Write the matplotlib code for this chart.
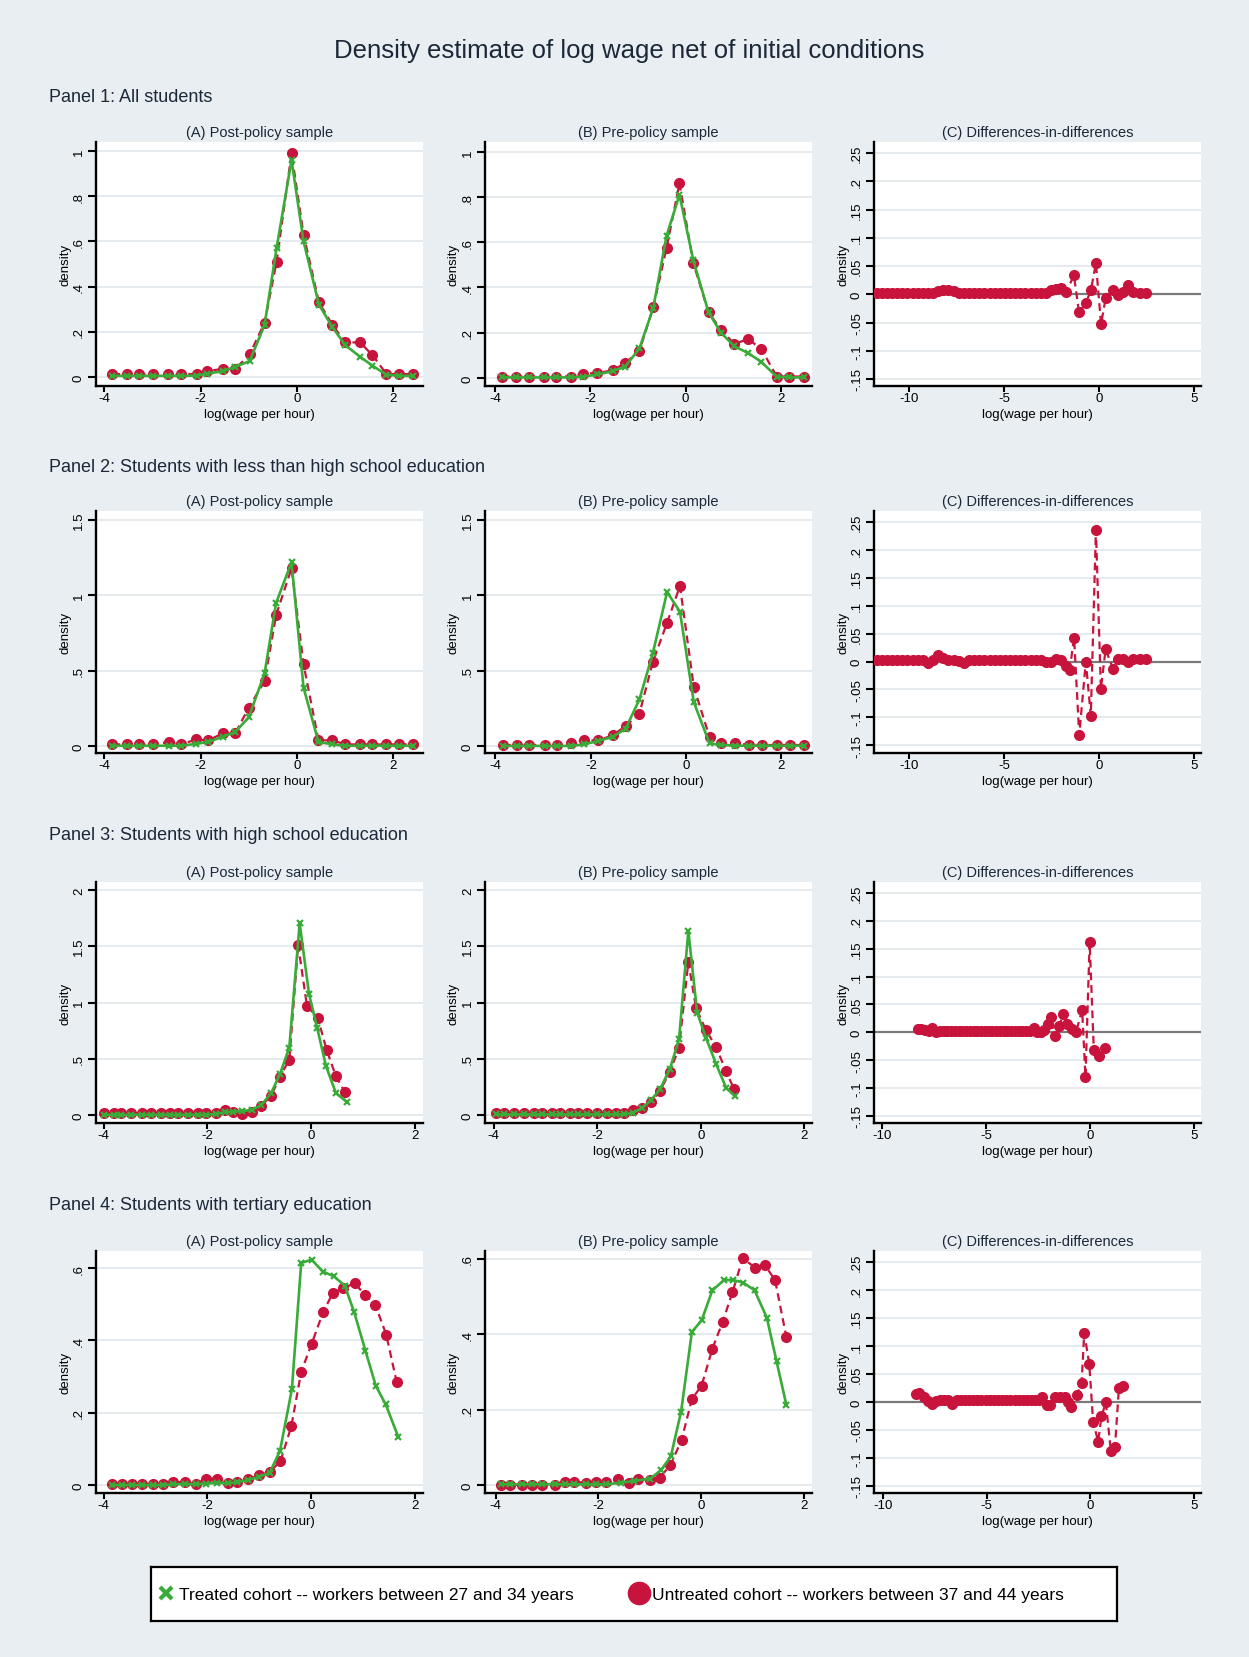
import matplotlib
matplotlib.use('Agg')
import matplotlib.pyplot as plt
from matplotlib.lines import Line2D

plt.rcParams['font.family'] = ['Liberation Sans', 'DejaVu Sans']
plt.rcParams['axes.unicode_minus'] = False

# ---------------- text ----------------
TITLE = 'Density estimate of log wage net of initial conditions'
PANEL_TITLES = ['Panel 1: All students',
                'Panel 2: Students with less than high school education',
                'Panel 3: Students with high school education',
                'Panel 4: Students with tertiary education']
SUB_TITLES = ['(A) Post-policy sample', '(B) Pre-policy sample', '(C) Differences-in-differences']
XLABEL = 'log(wage per hour)'
YLABEL = 'density'
LEGEND_LABELS = ['Treated cohort -- workers between 27 and 34 years',
                 'Untreated cohort -- workers between 37 and 44 years']

# ---------------- ticks ----------------
xticks_ab = [-4, -2, 0, 2]
xticks_c = [-10, -5, 0, 5]
yticks_c = [-0.15, -0.1, -0.05, 0, 0.05, 0.1, 0.15, 0.2, 0.25]
yticks_p1 = [0, 0.2, 0.4, 0.6, 0.8, 1]
yticks_p2 = [0, 0.5, 1, 1.5]
yticks_p3 = [0, 0.5, 1, 1.5, 2]
yticks_p4 = [0, 0.2, 0.4, 0.6]

# ---------------- Panel 1 ----------------
p1a_x = [-3.83, -3.53, -3.27, -2.98, -2.67, -2.40, -2.08, -1.86, -1.54, -1.28, -0.98, -0.67,
         -0.42, -0.11, 0.14, 0.46, 0.74, 1.01, 1.31, 1.57, 1.86, 2.13, 2.42]
p1a_untreated = [0.013, 0.013, 0.013, 0.013, 0.013, 0.013, 0.013, 0.027, 0.035, 0.035, 0.10, 0.24,
                 0.51, 0.99, 0.63, 0.33, 0.23, 0.153, 0.153, 0.097, 0.013, 0.013, 0.013]
p1a_treated = [0.005, 0.005, 0.005, 0.005, 0.005, 0.005, 0.006, 0.015, 0.025, 0.045, 0.07, 0.23,
               0.57, 0.96, 0.60, 0.32, 0.22, 0.14, 0.09, 0.05, 0.01, 0.005, 0.005]

p1b_x = [-3.86, -3.55, -3.28, -2.97, -2.72, -2.41, -2.15, -1.85, -1.53, -1.27, -0.97, -0.68,
         -0.40, -0.13, 0.16, 0.48, 0.74, 1.02, 1.31, 1.59, 1.91, 2.17, 2.48]
p1b_untreated = [0.006, 0.006, 0.006, 0.006, 0.006, 0.006, 0.019, 0.021, 0.034, 0.065, 0.12, 0.313,
                 0.576, 0.861, 0.508, 0.29, 0.213, 0.15, 0.172, 0.127, 0.006, 0.006, 0.006]
p1b_treated = [0.002, 0.002, 0.002, 0.002, 0.002, 0.002, 0.005, 0.015, 0.03, 0.05, 0.13, 0.31,
               0.63, 0.81, 0.52, 0.29, 0.20, 0.14, 0.11, 0.07, 0.005, 0.002, 0.002]

p1c_x = [-11.70, -11.43, -11.16, -10.89, -10.62, -10.35, -10.08, -9.81, -9.54, -9.27, -9.00, -8.73,
         -8.46, -8.19, -7.92, -7.65, -7.38, -7.11, -6.84, -6.57, -6.30, -6.03, -5.76, -5.49,
         -5.22, -4.95, -4.68, -4.41, -4.14, -3.87, -3.60, -3.33, -3.06, -2.79, -2.52, -2.25,
         -1.98, -1.71, -1.32, -1.05, -0.68, -0.42, -0.16, 0.11, 0.35, 0.75, 1.02, 1.28, 1.54,
         1.81, 2.16, 2.47]
p1c_diff = [0.003, 0.003, 0.003, 0.003, 0.003, 0.003, 0.003, 0.003, 0.003, 0.003, 0.003, 0.003,
            0.006, 0.008, 0.008, 0.006, 0.003, 0.003, 0.003, 0.003, 0.003, 0.003, 0.003, 0.003,
            0.003, 0.003, 0.003, 0.003, 0.003, 0.003, 0.003, 0.003, 0.003, 0.003, 0.007, 0.010,
            0.012, 0.004, 0.034, -0.032, -0.015, 0.008, 0.055, -0.053, -0.007, 0.008, -0.001,
            0.004, 0.017, 0.004, 0.003, 0.003]

# ---------------- Panel 2 ----------------
p2a_x = [-3.83, -3.53, -3.27, -2.98, -2.66, -2.40, -2.09, -1.84, -1.54, -1.28, -1.00, -0.67,
         -0.43, -0.11, 0.14, 0.45, 0.74, 1.01, 1.31, 1.57, 1.86, 2.13, 2.42]
p2a_untreated = [0.011, 0.011, 0.011, 0.011, 0.027, 0.011, 0.044, 0.038, 0.084, 0.084, 0.254, 0.431,
                 0.869, 1.18, 0.542, 0.038, 0.038, 0.011, 0.011, 0.011, 0.011, 0.011, 0.011]
p2a_treated = [0.002, 0.002, 0.002, 0.002, 0.002, 0.002, 0.015, 0.027, 0.062, 0.093, 0.19, 0.482,
               0.95, 1.22, 0.387, 0.027, 0.011, 0.002, 0.002, 0.002, 0.002, 0.002, 0.002]

p2b_x = [-3.84, -3.55, -3.29, -2.97, -2.72, -2.41, -2.15, -1.85, -1.54, -1.27, -0.98, -0.70,
         -0.40, -0.13, 0.16, 0.49, 0.74, 1.02, 1.31, 1.59, 1.91, 2.17, 2.48]
p2b_untreated = [0.007, 0.007, 0.007, 0.007, 0.007, 0.022, 0.038, 0.038, 0.071, 0.133, 0.215, 0.558,
                 0.819, 1.062, 0.394, 0.06, 0.022, 0.022, 0.007, 0.007, 0.007, 0.007, 0.007]
p2b_treated = [0.001, 0.001, 0.001, 0.001, 0.001, 0.001, 0.011, 0.033, 0.062, 0.115, 0.31, 0.615,
               1.022, 0.892, 0.292, 0.018, 0.007, 0.003, 0.002, 0.002, 0.002, 0.002, 0.002]

p2c_x = [-11.70, -11.43, -11.16, -10.89, -10.62, -10.35, -10.08, -9.81, -9.54, -9.27, -9.00, -8.73,
         -8.46, -8.19, -7.92, -7.65, -7.38, -7.11, -6.84, -6.57, -6.30, -6.03, -5.76, -5.49,
         -5.22, -4.95, -4.68, -4.41, -4.14, -3.87, -3.60, -3.33, -3.06, -2.79, -2.52, -2.25,
         -1.98, -1.76, -1.54, -1.31, -1.04, -0.69, -0.43, -0.16, 0.10, 0.35, 0.75, 1.01, 1.28,
         1.54, 1.80, 2.16, 2.47]
p2c_diff = [0.003, 0.003, 0.003, 0.003, 0.003, 0.003, 0.003, 0.003, 0.003, 0.003, -0.002, 0.003,
            0.011, 0.006, 0.003, 0.003, 0.001, -0.002, 0.003, 0.003, 0.003, 0.003, 0.003, 0.003,
            0.003, 0.003, 0.003, 0.003, 0.003, 0.003, 0.003, 0.003, 0.003, 0.0, 0.0, 0.005,
            0.003, -0.008, -0.015, 0.043, -0.132, 0.0, -0.097, 0.236, -0.049, 0.022, -0.014, 0.005,
            0.005, -0.001, 0.004, 0.004, 0.004]

# ---------------- Panel 3 ----------------
p3a_x_untreated = [-3.99, -3.80, -3.66, -3.47, -3.27, -3.08, -2.89, -2.73, -2.57, -2.37, -2.18, -2.02,
                   -1.84, -1.67, -1.50, -1.34, -1.14, -0.96, -0.77, -0.60, -0.42, -0.25, -0.08, 0.13,
                   0.30, 0.48, 0.65]
p3a_untreated = [0.015, 0.017, 0.017, 0.015, 0.017, 0.015, 0.017, 0.015, 0.017, 0.015, 0.017, 0.015,
                 0.015, 0.044, 0.024, 0.009, 0.03, 0.083, 0.172, 0.341, 0.492, 1.514, 0.972, 0.862,
                 0.58, 0.344, 0.207]
p3a_x_treated = [-3.99, -3.80, -3.66, -3.47, -3.27, -3.08, -2.89, -2.73, -2.57, -2.37, -2.18, -2.02,
                 -1.84, -1.67, -1.50, -1.34, -1.14, -0.96, -0.77, -0.60, -0.42, -0.22, -0.04, 0.12,
                 0.29, 0.48, 0.70]
p3a_treated = [0.003, 0.003, 0.003, 0.003, 0.003, 0.003, 0.003, 0.003, 0.003, 0.003, 0.003, 0.003,
               0.01, 0.024, 0.03, 0.035, 0.047, 0.089, 0.196, 0.364, 0.6, 1.704, 1.076, 0.77,
               0.433, 0.196, 0.113]

p3b_x_untreated = [-3.96, -3.81, -3.61, -3.42, -3.23, -3.06, -2.88, -2.72, -2.52, -2.38, -2.19, -2.00,
                   -1.82, -1.64, -1.49, -1.31, -1.13, -0.96, -0.79, -0.60, -0.42, -0.24, -0.09, 0.10,
                   0.30, 0.49, 0.64]
p3b_untreated = [0.021, 0.021, 0.021, 0.021, 0.021, 0.021, 0.021, 0.021, 0.021, 0.021, 0.021, 0.021,
                 0.021, 0.021, 0.021, 0.044, 0.065, 0.119, 0.213, 0.382, 0.599, 1.36, 0.948, 0.756,
                 0.601, 0.388, 0.234]
p3b_x_treated = [-3.96, -3.81, -3.61, -3.42, -3.23, -3.06, -2.88, -2.72, -2.52, -2.38, -2.19, -2.00,
                 -1.82, -1.64, -1.49, -1.31, -1.13, -0.96, -0.79, -0.60, -0.42, -0.24, -0.07, 0.10,
                 0.30, 0.49, 0.66]
p3b_treated = [0.006, 0.006, 0.006, 0.006, 0.006, 0.006, 0.006, 0.006, 0.006, 0.006, 0.006, 0.006,
               0.006, 0.006, 0.006, 0.021, 0.065, 0.133, 0.228, 0.406, 0.673, 1.636, 0.91, 0.687,
               0.45, 0.243, 0.169]

p3c_x = [-8.29, -8.11, -7.93, -7.75, -7.57, -7.39, -7.21, -7.03, -6.85, -6.67, -6.49, -6.31,
         -6.13, -5.95, -5.77, -5.59, -5.41, -5.23, -5.05, -4.87, -4.69, -4.51, -4.33, -4.15,
         -3.97, -3.79, -3.61, -3.43, -3.25, -3.07, -2.89, -2.71, -2.53, -2.35, -2.19, -2.03,
         -1.90, -1.69, -1.47, -1.31, -1.10, -0.86, -0.67, -0.38, -0.22, -0.02, 0.18, 0.42, 0.70]
p3c_diff = [0.0065, 0.005, 0.004, 0.003, 0.008, 0.001, 0.002, 0.002, 0.002, 0.002, 0.002, 0.002,
            0.002, 0.002, 0.002, 0.002, 0.002, 0.002, 0.002, 0.002, 0.002, 0.002, 0.002, 0.002,
            0.002, 0.002, 0.002, 0.002, 0.002, 0.002, 0.002, 0.008, 0.0, 0.0, 0.004, 0.015,
            0.027, -0.007, 0.011, 0.032, 0.014, 0.006, 0.001, 0.04, -0.081, 0.162, -0.032, -0.042,
            -0.029]

# ---------------- Panel 4 ----------------
p4a_x_untreated = [-3.84, -3.64, -3.45, -3.26, -3.05, -2.86, -2.66, -2.44, -2.22, -2.03, -1.81, -1.61,
                   -1.42, -1.22, -1.00, -0.80, -0.59, -0.38, -0.19, 0.01, 0.23, 0.42, 0.62, 0.84,
                   1.05, 1.24, 1.45, 1.65]
p4a_untreated = [0.002, 0.002, 0.002, 0.002, 0.002, 0.002, 0.008, 0.008, 0.002, 0.018, 0.018, 0.006,
                 0.008, 0.016, 0.027, 0.036, 0.066, 0.163, 0.313, 0.39, 0.477, 0.531, 0.544, 0.558,
                 0.524, 0.498, 0.416, 0.286]
p4a_x_treated = [-3.84, -3.64, -3.45, -3.26, -3.05, -2.86, -2.66, -2.44, -2.22, -2.03, -1.81, -1.61,
                 -1.42, -1.22, -1.00, -0.80, -0.60, -0.37, -0.19, 0.01, 0.23, 0.44, 0.65, 0.83,
                 1.05, 1.25, 1.44, 1.68]
p4a_treated = [0.0, 0.0, 0.0, 0.0, 0.0, 0.0, 0.002, 0.003, 0.002, 0.004, 0.006, 0.005,
               0.008, 0.014, 0.023, 0.034, 0.094, 0.265, 0.614, 0.623, 0.59, 0.577, 0.551, 0.479,
               0.371, 0.274, 0.223, 0.134]

p4b_x_untreated = [-3.90, -3.72, -3.48, -3.29, -3.10, -2.85, -2.66, -2.48, -2.25, -2.05, -1.85, -1.61,
                   -1.41, -1.22, -1.00, -0.81, -0.60, -0.38, -0.18, 0.01, 0.22, 0.42, 0.61, 0.81,
                   1.05, 1.24, 1.44, 1.66]
p4b_untreated = [0.0, 0.0, 0.0, 0.0, 0.0, 0.0, 0.009, 0.009, 0.006, 0.009, 0.009, 0.017,
                 0.006, 0.017, 0.013, 0.02, 0.052, 0.12, 0.228, 0.264, 0.362, 0.433, 0.511, 0.602,
                 0.577, 0.584, 0.544, 0.393]
p4b_x_treated = [-3.90, -3.72, -3.48, -3.29, -3.10, -2.85, -2.66, -2.48, -2.25, -2.05, -1.85, -1.57,
                 -1.31, -0.99, -0.78, -0.59, -0.39, -0.18, 0.01, 0.22, 0.45, 0.63, 0.82, 1.04,
                 1.28, 1.47, 1.66]
p4b_treated = [0.002, 0.002, 0.002, 0.002, 0.002, 0.002, 0.002, 0.002, 0.002, 0.002, 0.002, 0.006,
               0.011, 0.017, 0.04, 0.076, 0.195, 0.406, 0.437, 0.517, 0.544, 0.544, 0.537, 0.517,
               0.444, 0.328, 0.213]

p4c_x = [-8.39, -8.24, -8.04, -7.83, -7.65, -7.45, -7.25, -7.05, -6.85, -6.65, -6.45, -6.25,
         -6.05, -5.85, -5.65, -5.45, -5.25, -5.05, -4.85, -4.65, -4.45, -4.25, -4.05, -3.85,
         -3.65, -3.45, -3.25, -3.05, -2.85, -2.65, -2.47, -2.35, -2.10, -1.92, -1.71, -1.47,
         -1.23, -1.07, -0.91, -0.66, -0.42, -0.29, -0.05, 0.14, 0.38, 0.54, 0.75, 0.99, 1.19,
         1.38, 1.59]
p4c_diff = [0.0135, 0.016, 0.009, 0.002, -0.003, 0.002, 0.003, 0.003, 0.003, -0.003, 0.003, 0.003,
            0.003, 0.003, 0.003, 0.003, 0.003, 0.003, 0.003, 0.003, 0.003, 0.003, 0.003, 0.003,
            0.003, 0.003, 0.003, 0.003, 0.003, 0.003, 0.003, 0.008, -0.006, -0.006, 0.008, 0.009,
            0.008, -0.001, -0.01, 0.012, 0.033, 0.124, 0.068, -0.036, -0.071, -0.026, -0.001,
            -0.087, -0.081, 0.024, 0.029]

# ---------------- styling / layout ----------------
BG = '#e8eef2'
GREEN = '#38ab38'
RED = '#c8143c'
NAVY = '#1c2838'
GRID = '#e2e8ec'
W, H = 1249, 1658

COLS = [(96, 423), (485, 812), (874, 1201)]
ROWS = [(143, 387), (512, 754), (883, 1124), (1252, 1494)]
PANEL_Y = [98, 467, 836, 1206]

rows = [
    dict(A=(p1a_x, p1a_treated, p1a_x, p1a_untreated),
         B=(p1b_x, p1b_treated, p1b_x, p1b_untreated),
         C=(p1c_x, p1c_diff), yt=yticks_p1,
         ylA=(-0.04, 1.04), ylB=(-0.036, 1.044),
         xlA=(-4.17, 2.62), xlB=(-4.21, 2.65), xlC=(-11.84, 5.37), ylC=(-0.1625, 0.27)),
    dict(A=(p2a_x, p2a_treated, p2a_x, p2a_untreated),
         B=(p2b_x, p2b_treated, p2b_x, p2b_untreated),
         C=(p2c_x, p2c_diff), yt=yticks_p2,
         ylA=(-0.046, 1.56), ylB=(-0.046, 1.56),
         xlA=(-4.17, 2.62), xlB=(-4.22, 2.64), xlC=(-11.84, 5.37), ylC=(-0.164, 0.27)),
    dict(A=(p3a_x_treated, p3a_treated, p3a_x_untreated, p3a_untreated),
         B=(p3b_x_treated, p3b_treated, p3b_x_untreated, p3b_untreated),
         C=(p3c_x, p3c_diff), yt=yticks_p3,
         ylA=(-0.07, 2.07), ylB=(-0.07, 2.07),
         xlA=(-4.15, 2.16), xlB=(-4.17, 2.15), xlC=(-10.38, 5.33), ylC=(-0.163, 0.27)),
    dict(A=(p4a_x_treated, p4a_treated, p4a_x_untreated, p4a_untreated),
         B=(p4b_x_treated, p4b_treated, p4b_x_untreated, p4b_untreated),
         C=(p4c_x, p4c_diff), yt=yticks_p4,
         ylA=(-0.022, 0.647), ylB=(-0.021, 0.621),
         xlA=(-4.15, 2.16), xlB=(-4.21, 2.16), xlC=(-10.43, 5.34), ylC=(-0.163, 0.27)),
]


def stata_fmt(v):
    s = ('%g' % v)
    if s.startswith('0.'):
        s = s[1:]
    elif s.startswith('-0.'):
        s = '-' + s[2:]
    return s


fig = plt.figure(figsize=(W / 100, H / 100), dpi=100, facecolor=BG)


def make_ax(col, row):
    l, r = COLS[col]
    t, b = ROWS[row]
    ax = fig.add_axes([l / W, 1 - b / H, (r - l) / W, (b - t) / H])
    ax.set_facecolor('white')
    for s in ('top', 'right'):
        ax.spines[s].set_visible(False)
    for s in ('left', 'bottom'):
        ax.spines[s].set_linewidth(1.7)
        ax.spines[s].set_color('black')
    ax.tick_params(axis='both', direction='out', width=1.5, labelsize=9.5, colors='black')
    ax.tick_params(axis='x', length=4, pad=0)
    ax.tick_params(axis='y', length=5.5, pad=2.5)
    ax.grid(axis='y', color=GRID, lw=1.3)
    ax.set_axisbelow(True)
    cx = (l + r) / 2
    fig.text(cx / W, 1 - (t - 10) / H, SUB_TITLES[col], ha='center', va='center',
             fontsize=10.5, color=NAVY)
    fig.text(cx / W, 1 - (b + 28) / H, XLABEL, ha='center', va='center', fontsize=9.5,
             color='black')
    fig.text((l - 31) / W, 1 - ((t + b) / 2) / H, YLABEL, ha='center', va='center',
             rotation=90, fontsize=9.5, color='black')
    return ax


def set_ticks(ax, xt, yt):
    ax.set_xticks(xt)
    ax.set_xticklabels([stata_fmt(v) for v in xt])
    ax.set_yticks(yt)
    ax.set_yticklabels([stata_fmt(v) for v in yt], rotation=90, va='center')


for ri, row in enumerate(rows):
    fig.text(49 / W, 1 - PANEL_Y[ri] / H, PANEL_TITLES[ri], ha='left', va='center',
             fontsize=13, color=NAVY)
    for ci, key in enumerate(('A', 'B')):
        ax = make_ax(ci, ri)
        xt, yt_, xu, yu = row[key]
        ax.plot(xu, yu, color=RED, lw=1.6, ls=(0, (3.5, 2.2)), marker='o', ms=7,
                mfc=RED, mec=RED, zorder=3)
        ax.plot(xt, yt_, color=GREEN, lw=1.9, marker='x', ms=4, mew=1.6, zorder=4)
        ax.set_xlim(*row['xl' + key])
        ax.set_ylim(*row['yl' + key])
        set_ticks(ax, xticks_ab, row['yt'])
    ax = make_ax(2, ri)
    xc, yc = row['C']
    ax.axhline(0, color='#7a7a7a', lw=1.6, zorder=2)
    ax.plot(xc, yc, color=RED, lw=1.6, ls=(0, (3.5, 2.2)), marker='o', ms=7,
            mfc=RED, mec=RED, zorder=3)
    ax.set_xlim(*row['xlC'])
    ax.set_ylim(*row['ylC'])
    set_ticks(ax, xticks_c, yticks_c)

fig.text(629 / W, 1 - 51 / H, TITLE, ha='center', va='center', fontsize=18.5, color=NAVY)

# legend box
lax = fig.add_axes([151 / W, 1 - 1622 / H, 966 / W, 54 / H])
lax.set_facecolor('white')
lax.set_xticks([])
lax.set_yticks([])
for s in lax.spines.values():
    s.set_linewidth(1.6)
    s.set_color('black')
handles = [Line2D([], [], ls='none', marker='x', ms=9, mew=3, color=GREEN),
           Line2D([], [], ls='none', marker='o', ms=16, color=RED)]
lax.legend(handles, LEGEND_LABELS, loc='center left', bbox_to_anchor=(0, 0.5),
           frameon=False, ncol=2, fontsize=12.5, borderaxespad=0, borderpad=0.4,
           handlelength=0.9, handletextpad=0.3, columnspacing=3.3)

fig.savefig('out.png', dpi=100, facecolor=BG)
